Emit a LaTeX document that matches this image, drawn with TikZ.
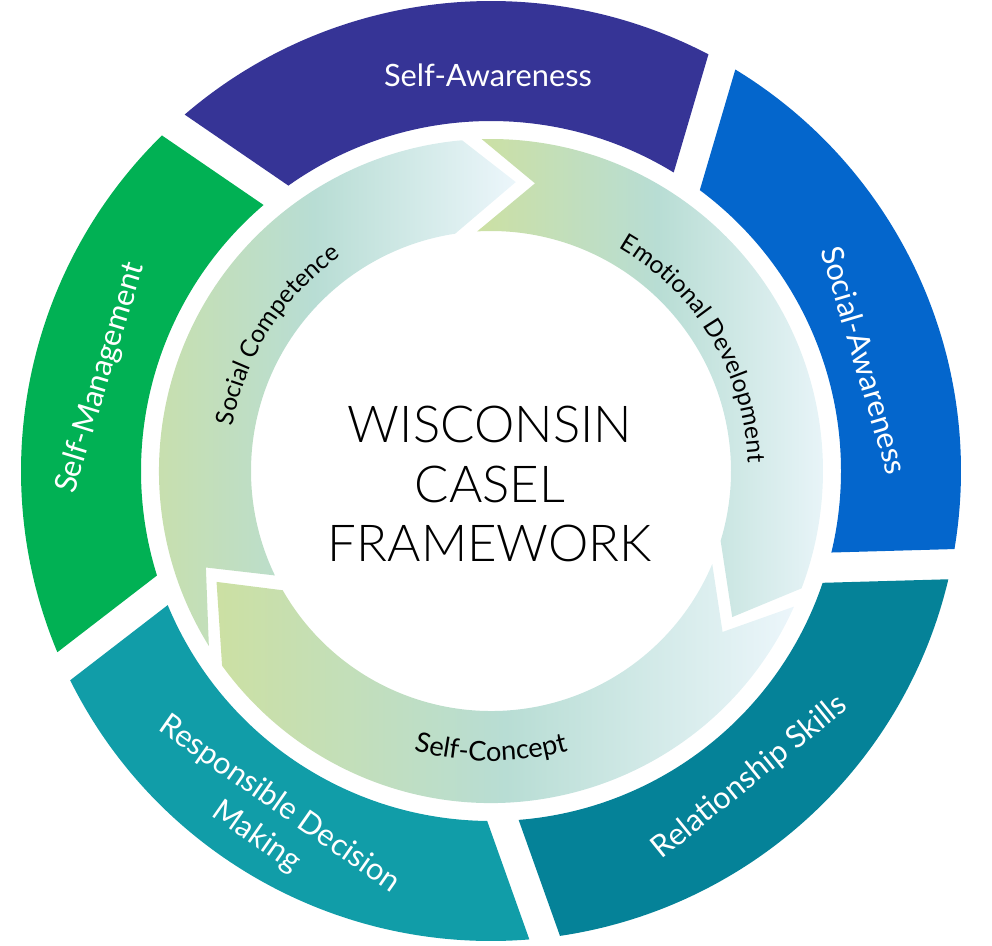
\documentclass[tikz,border=0pt]{standalone}
\usepackage{fontspec}
\setmainfont{Lato}
\newfontfamily\thinfont{Lato Light}
\usetikzlibrary{decorations.text}

\definecolor{selfaw}{RGB}{54,52,150}
\definecolor{socaw}{RGB}{4,102,204}
\definecolor{relsk}{RGB}{5,130,152}
\definecolor{respdm}{RGB}{17,157,168}
\definecolor{selfmg}{RGB}{1,177,84}
\definecolor{arrowleft}{RGB}{204,224,163}
\definecolor{arrowmid}{RGB}{184,221,212}
\definecolor{arrowright}{RGB}{236,246,251}

\newcommand{\ringpart}[3]{\fill[#1] (#2+3.84:470) arc[start angle=#2+3.84, end angle=#3+0.08, radius=470]
	-- (#3-5.23:350) arc[start angle=#3-5.23, end angle=#2-0.07, radius=350] -- cycle;}

\begin{document}
\begin{tikzpicture}[x=0.2mm, y=0.2mm,
				   every node/.style={align=center, inner sep=0pt},
				   ringlabel/.style={text=white, font=\fontsize{17.5}{22.7}\selectfont},
				   arrowband/.style={left color=arrowleft, right color=arrowright, middle color=arrowmid},
				   arrowlabel/.style 2 args={decorate, decoration={text along path, text align=center,
				   		text={|\fontsize{#1}{15}\selectfont|#2}}}]
\useasboundingbox (-491,-474) rectangle (501,471);
\ringpart{selfaw}{58.6}{130.6}
\ringpart{socaw}{-13.4}{58.6}
\ringpart{relsk}{-85.4}{-13.4}
\ringpart{respdm}{-157.4}{-85.4}
\ringpart{selfmg}{130.6}{202.6}
\shade[arrowband] (211.8:332) arc[start angle=211.8, end angle=95, radius=332] -- (85.1:290)
	-- (98.6:240) arc[start angle=98.6, end angle=205.8, radius=240] -- (198.7:301) -- cycle;
\shade[arrowband] (91.6:332) arc[start angle=91.6, end angle=-20.7, radius=332] -- (-31.2:282)
	-- (-16.9:240) arc[start angle=-16.9, end angle=93.3, radius=240] -- (81.3:291) -- cycle;
\shade[arrowband] (-24.1:332) arc[start angle=-24.1, end angle=-144.1, radius=332] -- (-158:296)
	-- (-150.2:240) arc[start angle=-150.2, end angle=-22.8, radius=240] -- (-34.8:282) -- cycle;
\path[arrowlabel={14}{Social Competence}] (172:262) arc[start angle=172, end angle=123, radius=262];
\path[arrowlabel={14}{Emotional Development}] (63:257) arc[start angle=63, end angle=-1, radius=257];
\path[arrowlabel={15.5}{Self-Concept}] (-112:290) arc[start angle=-112, end angle=-68, radius=290];
\node[font=\thinfont\fontsize{29}{34}\selectfont] (title) at (-1,-13) {WISCONSIN\\CASEL\\FRAMEWORK};
\node[ringlabel] (selfaware) at (-3,396) {Self-Awareness};
\node[ringlabel, rotate=-73.5] (socaware) at (16.5:390) {Social-Awareness};
\node[ringlabel, rotate=39] (relskills) at (-49.8:401) {Relationship Skills};
\node[ringlabel, rotate=-35] (respdec) at (-122.5:415) {Responsible Decision\\Making};
\node[ringlabel, rotate=73] (selfmanage) at (166.6:401) {Self-Management};
\end{tikzpicture}
\end{document}
